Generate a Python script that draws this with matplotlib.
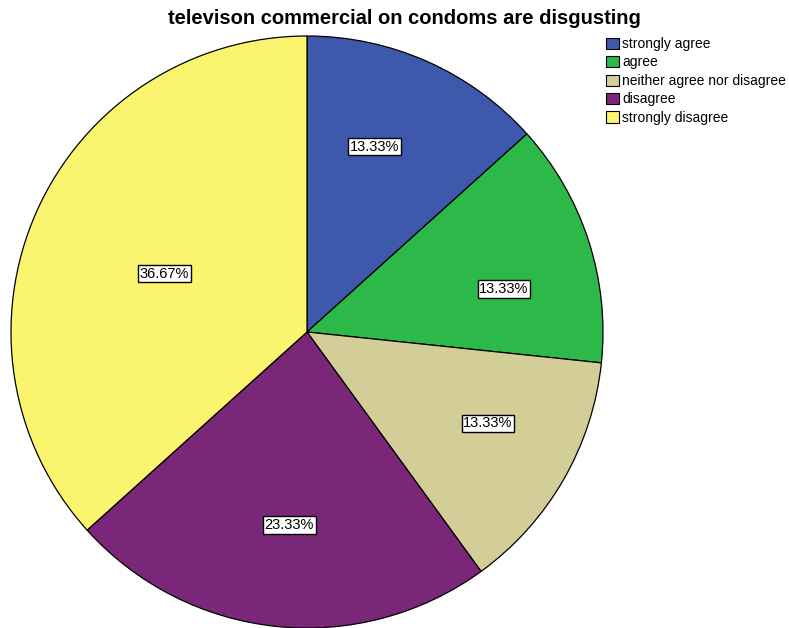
import matplotlib
matplotlib.use("Agg")
import matplotlib.pyplot as plt
from matplotlib.patches import Patch
import numpy as np

categories = ["strongly agree", "agree", "neither agree nor disagree", "disagree", "strongly disagree"]
values = [13.33, 13.33, 13.33, 23.33, 36.67]
colors = ["#3E58AC", "#2DB84A", "#D3CE97", "#7B2779", "#FBF46E"]
title = "televison commercial on condoms are disgusting"

# label placement (fraction of radius, angle offset in degrees from wedge middle)
label_radius = [0.666, 0.681, 0.685, 0.655, 0.52]
label_angle_offset = [4.1, -5.7, 3.2, 0.7, 1.7]

plt.rcParams['font.family'] = ['Liberation Sans', 'DejaVu Sans']
fig = plt.figure(figsize=(7.89, 6.28), dpi=100)
ax = fig.add_axes([11/789, 0/628, 592/789, 592/628])
wedges, _ = ax.pie(values, colors=colors, startangle=90, counterclock=False,
                   wedgeprops=dict(edgecolor="black", linewidth=0.9), radius=1.0)
ax.set_xlim(-1, 1)
ax.set_ylim(-1, 1)
ax.set_aspect("equal")

for w, v, r, da in zip(wedges, values, label_radius, label_angle_offset):
    ang = np.deg2rad((w.theta1 + w.theta2) / 2 + da)
    ax.text(r * np.cos(ang), r * np.sin(ang), f"{v:.2f}%", ha="center", va="center",
            fontsize=10.5, bbox=dict(boxstyle="square,pad=0.12", fc="white", ec="black", lw=1.0))

fig.text(404/789, 1 - 18/628, title, ha="center", va="center", fontsize=14.5, fontweight="bold")

handles = [Patch(facecolor=c, edgecolor="black", linewidth=0.8) for c in colors]
fig.legend(handles, categories, loc="upper left", bbox_to_anchor=(606/789, 1 - 37/628),
           frameon=False, fontsize=10, handlelength=0.9, handleheight=0.85,
           handletextpad=0.25, labelspacing=0.32, borderaxespad=0, borderpad=0)

fig.savefig("out.png", dpi=100)
